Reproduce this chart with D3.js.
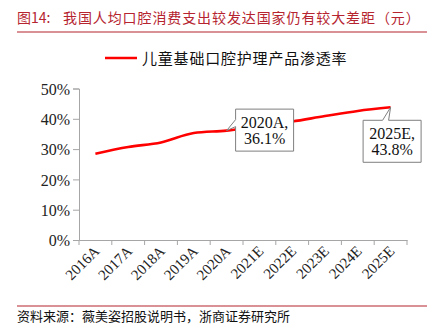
<!DOCTYPE html>
<html><head><meta charset="utf-8">
<script src="https://cdn.jsdelivr.net/npm/d3@7"></script>
<style>body{margin:0;background:#fff}svg{display:block}</style>
</head><body>
<svg id="c" width="443" height="331"></svg>
<script>
const categories = ["2016A","2017A","2018A","2019A","2020A","2021E","2022E","2023E","2024E","2025E"];
const seriesName = "儿童基础口腔护理产品渗透率";
const values = [28.5, 30.7, 32.2, 35.3, 36.1, 37.6, 39.1, 40.9, 42.6, 43.8];
const yTicks = [0, 10, 20, 30, 40, 50];
const titleNum = "图14:";
const titleText = "我国人均口腔消费支出较发达国家仍有较大差距（元）";
const sourceText = "资料来源：薇美姿招股说明书，浙商证券研究所";
const callouts = [{i: 4, lines: ["2020A,", "36.1%"]}, {i: 9, lines: ["2025E,", "43.8%"]}];

const svg = d3.select("#c");
const serif = "'Liberation Serif','Times New Roman',serif";
const cjk = "'Noto Sans CJK SC','Noto Sans CJK JP',sans-serif";
const red = "#ff0000", dark = "#b5242f";

// title
svg.append("text").attr("x", 17).attr("y", 23).attr("fill", dark)
  .style("font-family", cjk).style("font-size", "14px").text(titleNum);
svg.append("text").attr("x", 63).attr("y", 23).attr("fill", dark)
  .style("font-family", cjk).style("font-size", "14px").style("letter-spacing", "0.9px").text(titleText);
svg.append("line").attr("x1", 17).attr("x2", 427).attr("y1", 32).attr("y2", 32)
  .attr("stroke", dark).attr("stroke-width", 1.2);

// legend
svg.append("line").attr("x1", 105).attr("x2", 137).attr("y1", 58).attr("y2", 58)
  .attr("stroke", red).attr("stroke-width", 2.5);
svg.append("text").attr("x", 142).attr("y", 63.5).attr("fill", "#111")
  .style("font-family", cjk).style("font-size", "15px").style("letter-spacing", "0.8px").text(seriesName);

// scales
const x = d3.scaleBand().domain(categories).range([79, 407]);
const y = d3.scaleLinear().domain([0, 50]).range([240, 88.5]);
const axisColor = "#a6a6a6";

const yAxis = svg.append("g").attr("transform", "translate(79,0)")
  .call(d3.axisLeft(y).tickValues(yTicks).tickSize(6).tickFormat(d => d + "%"));
yAxis.select(".domain").attr("stroke", axisColor);
yAxis.selectAll(".tick line").attr("stroke", axisColor);
yAxis.selectAll("text").attr("fill", "#222").attr("x", -9).attr("dy", "0.35em")
  .style("font-family", serif).style("font-size", "16px");

const xAxis = svg.append("g").attr("transform", "translate(0,240)")
  .call(d3.axisBottom(x).tickSize(5).tickSizeOuter(0).tickFormat(""));
xAxis.select(".domain").attr("stroke", axisColor);
xAxis.selectAll(".tick line").attr("stroke", axisColor)
  .attr("transform", `translate(${-x.bandwidth() / 2},0)`);
xAxis.append("line").attr("x1", 407).attr("x2", 407).attr("y1", 0).attr("y2", 5).attr("stroke", axisColor);

svg.append("g").selectAll("text").data(categories).join("text")
  .attr("transform", d => `translate(${x(d) + x.bandwidth() / 2 + 5},252) rotate(-45)`)
  .attr("text-anchor", "end").attr("fill", "#222")
  .style("font-family", serif).style("font-size", "15px").text(d => d);

// line
const px = (d, i) => x(categories[i]) + x.bandwidth() / 2;
const line = d3.line().x(px).y(d => y(d)).curve(d3.curveMonotoneX);
svg.append("path").datum(values).attr("d", line).attr("fill", "none")
  .attr("stroke", red).attr("stroke-width", 2.6);

// callouts
function callout(c) {
  const tx = px(null, c.i), ty = y(values[c.i]);
  const g = svg.append("g");
  let bx, by, w = 58, h = 42, path;
  if (c.i === 4) {
    bx = tx + 9; by = ty - 21.5;
    path = `M${bx},${by}H${bx + w}V${by + h}H${bx}V${ty - 4}L${tx},${ty}L${bx},${ty - 11}Z`;
  } else {
    bx = tx - 27.5; by = ty + 13;
    path = `M${bx},${by}H${tx - 8}L${tx},${ty}L${tx - 2},${by}H${bx + w}V${by + h}H${bx}Z`;
  }
  g.append("path").attr("d", path).attr("fill", "#fff").attr("stroke", "#7f7f7f").attr("stroke-width", 1);
  c.lines.forEach((t, k) => {
    g.append("text").attr("x", bx + w / 2).attr("y", by + 19 + k * 15.5)
      .attr("text-anchor", "middle").attr("fill", "#111")
      .style("font-family", serif).style("font-size", "16px").text(t);
  });
}
callouts.forEach(callout);

// footer
svg.append("line").attr("x1", 17).attr("x2", 427).attr("y1", 306).attr("y2", 306)
  .attr("stroke", dark).attr("stroke-width", 1.2);
svg.append("text").attr("x", 17).attr("y", 321).attr("fill", "#111")
  .style("font-family", cjk).style("font-size", "13px").text(sourceText);
</script>
</body></html>
